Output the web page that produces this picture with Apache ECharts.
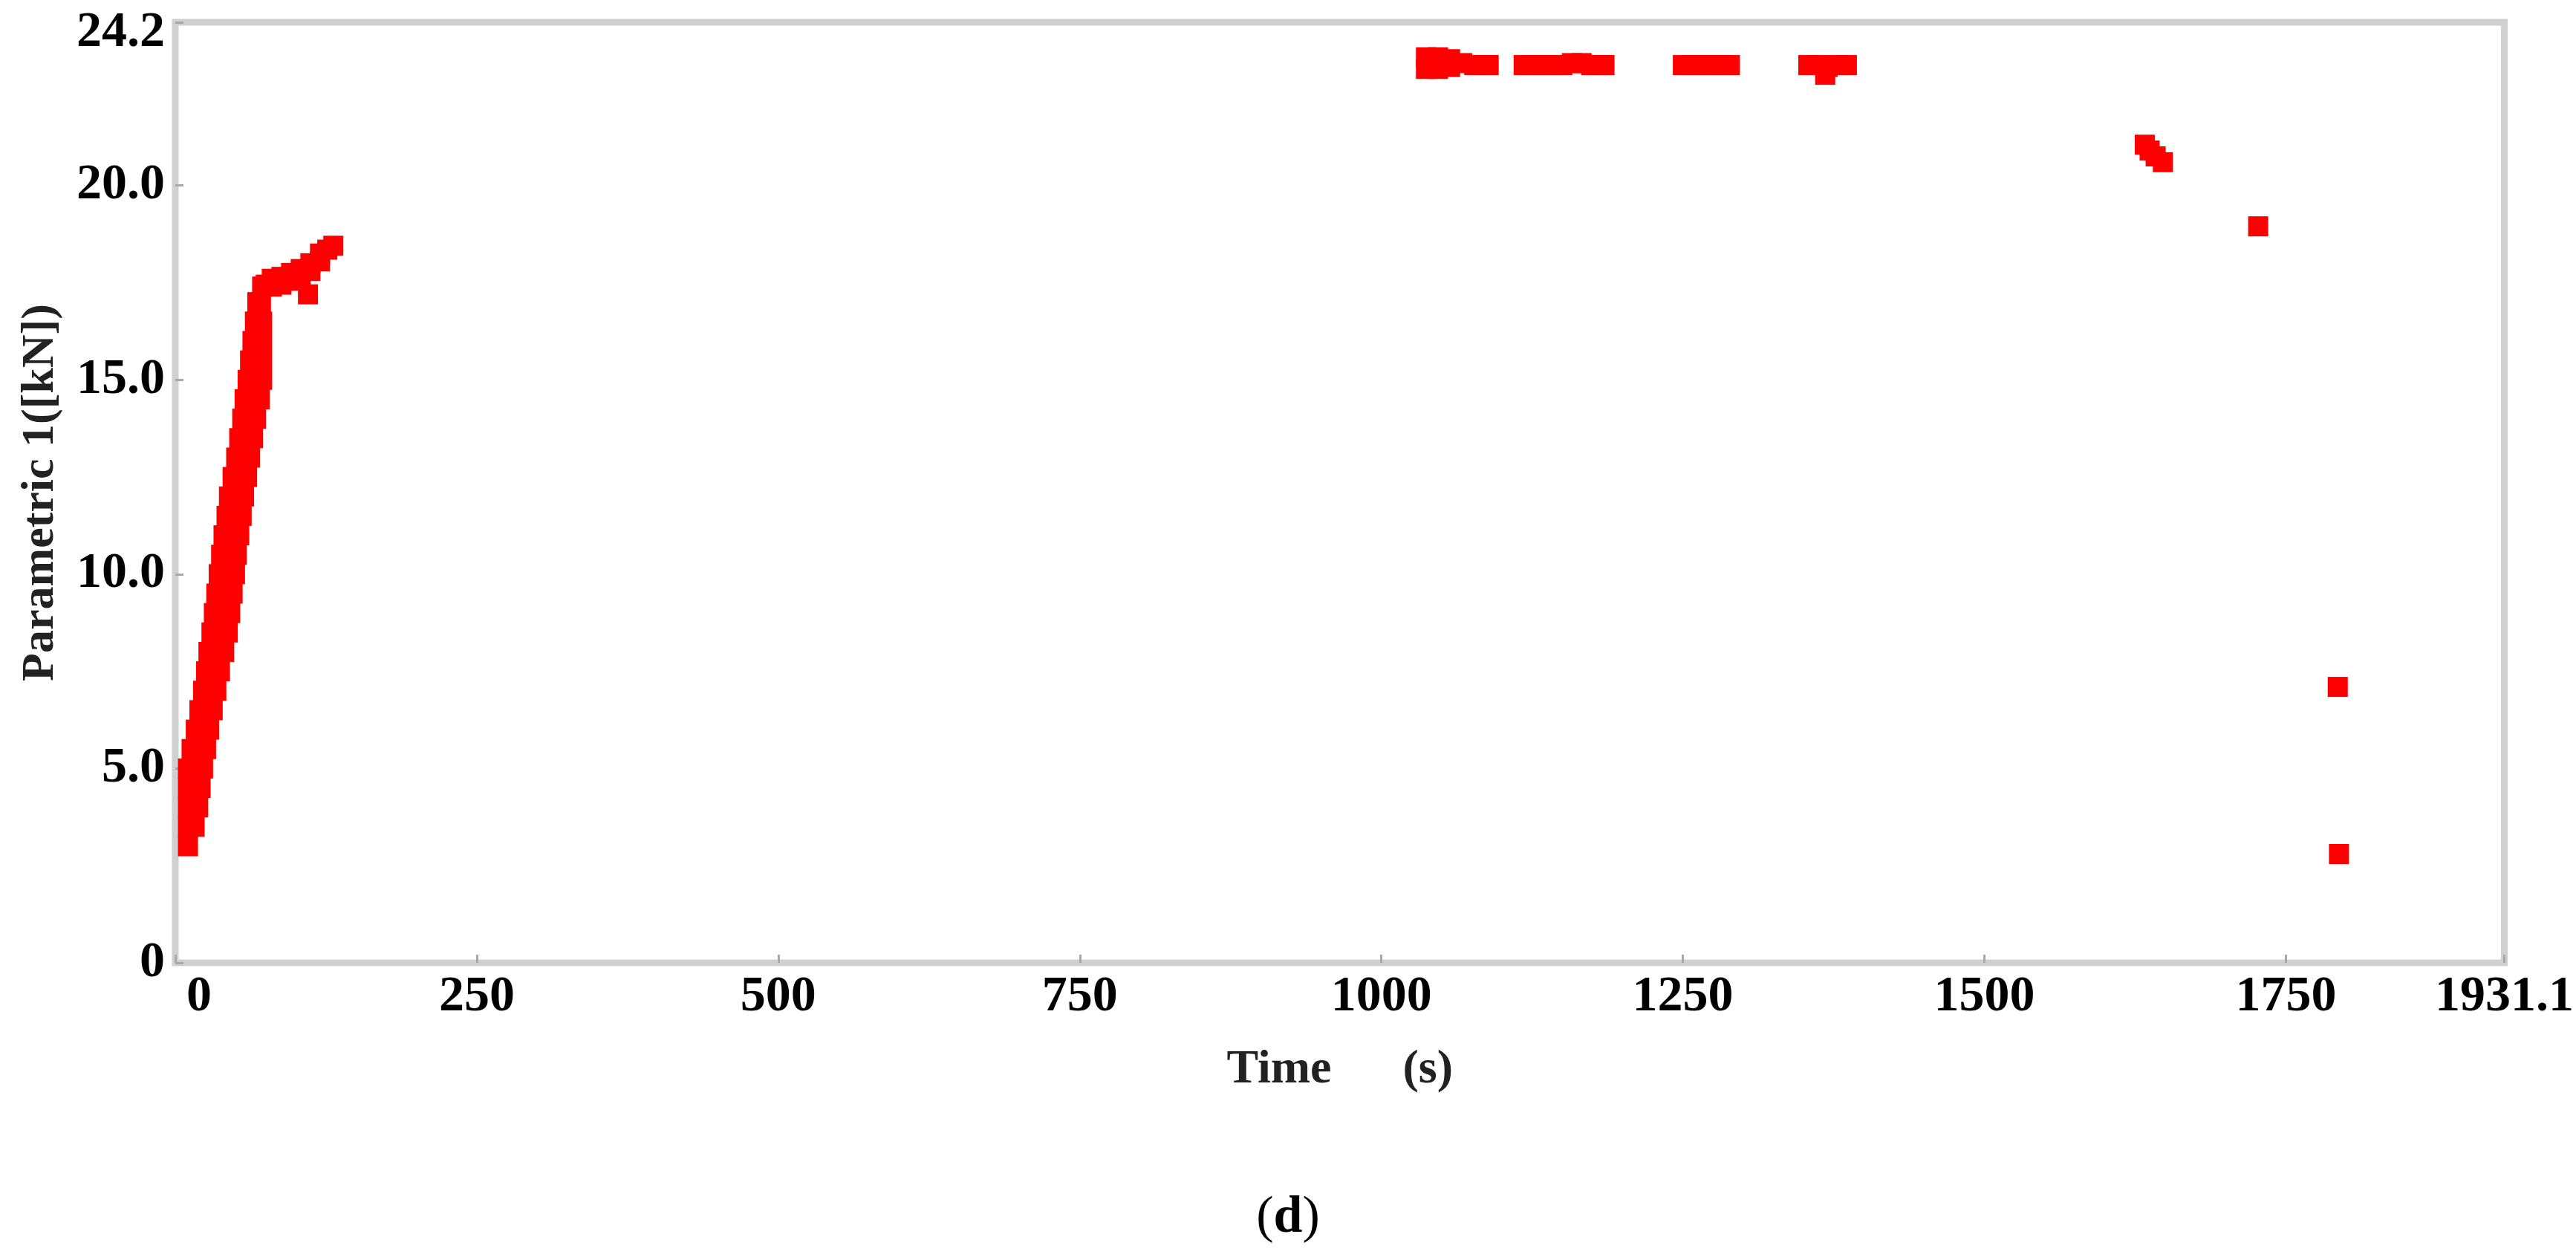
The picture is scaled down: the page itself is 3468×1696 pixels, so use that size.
<!DOCTYPE html>
<html>
<head>
<meta charset="utf-8">
<script src="https://cdn.jsdelivr.net/npm/echarts@6/dist/echarts.min.js"></script>
<style>
html,body{margin:0;padding:0;background:#fff;}
#chart{width:3468px;height:1696px;}
</style>
</head>
<body>
<div id="chart"></div>
<script>
// ---- axis settings ----
const xMax = 1931.1;
const xStep = 250;
const yMax = 24.2;
const yStep = 5;
const xTitle = 'Time';
const xUnit = '(s)';
const yTitle = 'Parametric 1([kN])';
const caption = 'd';

// ---- data: [time (s), force (kN)] ----
const loadingRamp = [
  [10.5,3.0],
  [10.5,3.5],[16,3.5],
  [10.5,4.0],[19,4.0],
  [10.5,4.5],[21,4.5],
  [10.5,5.0],[17,5.0],[23,5.0],
  [13.5,5.5],[20,5.5],[25.5,5.5],
  [17,6.0],[23,6.0],[28,6.0],
  [20,6.5],[26,6.5],[31,6.5],
  [23,7.0],[29,7.0],[34,7.0],
  [25.5,7.5],[31.5,7.5],[37,7.5],
  [27.5,8.0],[34,8.0],[40.5,8.0],
  [30,8.5],[37,8.5],[43.5,8.5],
  [32,9.0],[39,9.0],[45.5,9.0],
  [34,9.5],[41,9.5],[47.5,9.5],
  [36,10.0],[43,10.0],[49.5,10.0],
  [38,10.5],[44.5,10.5],[51,10.5],
  [40,11.0],[46.5,11.0],[53,11.0],
  [42.5,11.5],[49,11.5],[55,11.5],
  [44.5,12.0],[51,12.0],[57,12.0],
  [47.5,12.5],[53.5,12.5],[59.5,12.5],
  [50.5,13.0],[56,13.0],[62,13.0],
  [53,13.5],[59,13.5],[64.5,13.5],
  [55.5,14.0],[61.5,14.0],[67,14.0],
  [57.5,14.5],[63.5,14.5],[70,14.5],
  [60,15.0],[66,15.0],[72,15.0],
  [62,15.5],[67,15.5],[72,15.5],
  [64,16.0],[72,16.0],
  [66,16.5],[72,16.5],
  [68,17.0],[71,17.0],
  [72,17.4]
];
const rampPlateau = [
  [75,17.45],[80,17.6],[80,17.4],[88,17.65],[88,17.45],
  [96,17.75],[96,17.55],[104,17.85],[104,17.65],
  [112,18.0],[112,17.8],[120,18.25],[120,18.05],
  [126,18.35],[131,18.45],
  [110,17.2]
];
const holdDashes = [
  [1037,23.3],[1037,23.0],[1047,23.3],[1047,23.0],[1057,23.25],[1057,23.05],
  [1067,23.15],[1077,23.1],[1085,23.1],[1089,23.1],
  [1118,23.1],[1126,23.1],[1134,23.1],[1142,23.1],[1150,23.1],
  [1158,23.15],[1166,23.15],[1174,23.1],[1182,23.1],[1185,23.1],
  [1250,23.1],[1258,23.1],[1266,23.1],[1274,23.1],[1282,23.1],[1289,23.1],
  [1354,23.1],[1362,23.1],[1370,23.05],[1378,23.1],[1386,23.1],[1368,22.85]
];
const unloading = [
  [1633,21.05],[1637,20.9],[1642,20.75],[1648,20.6],
  [1727,18.95],
  [1793,7.1],
  [1794,2.8]
];

const FONT = 'Liberation Serif';
const labelStyle = {fontFamily: FONT, fontWeight: 'bold', fontSize: 68, color: '#000'};

function scatter(name, data) {
  return {
    name: name, type: 'scatter', data: data,
    symbol: 'rect', symbolSize: 27,
    itemStyle: {color: '#ff0000', opacity: 1},
    emphasis: {disabled: true},
    clip: false
  };
}

const chart = echarts.init(document.getElementById('chart'), null, {renderer: 'canvas'});
chart.setOption({
  animation: false,
  backgroundColor: '#ffffff',
  grid: {
    left: 236, right: 88, top: 30, bottom: 400,
    show: true, borderColor: '#d0d0d0', borderWidth: 9, backgroundColor: 'transparent'
  },
  xAxis: {
    type: 'value', min: 0, max: xMax, interval: xStep,
    axisLine: {show: false},
    axisTick: {show: true, inside: true, length: 11, lineStyle: {color: '#a8a8a8', width: 3}},
    splitLine: {show: false},
    axisLabel: Object.assign({}, labelStyle, {
      margin: 12,
      formatter: function (v) {
        if (v === 0) return '{z|0}';
        return Number.isInteger(v) ? String(v) : v.toFixed(1);
      },
      rich: {z: Object.assign({}, labelStyle, {padding: [0, 0, 0, 64]})}
    }),
    name: xTitle + '\u00a0\u00a0\u00a0\u00a0\u00a0\u00a0' + xUnit,
    nameLocation: 'middle', nameGap: 112,
    nameTextStyle: {fontFamily: FONT, fontWeight: 'bold', fontSize: 64, color: '#222'}
  },
  yAxis: {
    type: 'value', min: 0, max: yMax, interval: yStep,
    axisLine: {show: false},
    axisTick: {show: true, inside: true, length: 11, lineStyle: {color: '#a8a8a8', width: 3}},
    splitLine: {show: false},
    axisLabel: Object.assign({}, labelStyle, {
      margin: 14,
      formatter: function (v) {
        if (v === 0) return '0';
        if (Math.abs(v - yMax) < 1e-6) return '{t|' + v.toFixed(1) + '}';
        return v.toFixed(1);
      },
      rich: {t: Object.assign({}, labelStyle, {padding: [28, 0, 0, 0]})}
    }),
    name: yTitle,
    nameLocation: 'middle', nameGap: 150,
    nameTextStyle: {fontFamily: FONT, fontWeight: 'bold', fontSize: 62, color: '#222'}
  },
  graphic: [{
    type: 'text',
    x: 1734, y: 1640,
    style: {
      text: '{p|(}{b|' + caption + '}{p|)}',
      align: 'center', verticalAlign: 'middle',
      rich: {
        p: {fontFamily: FONT, fontSize: 70, fontWeight: 'normal', fill: '#000'},
        b: {fontFamily: FONT, fontSize: 70, fontWeight: 'bold', fill: '#000'}
      }
    }
  }],
  series: [
    scatter('ramp', loadingRamp),
    scatter('plateau', rampPlateau),
    scatter('hold', holdDashes),
    scatter('unload', unloading)
  ]
});
</script>
</body>
</html>
